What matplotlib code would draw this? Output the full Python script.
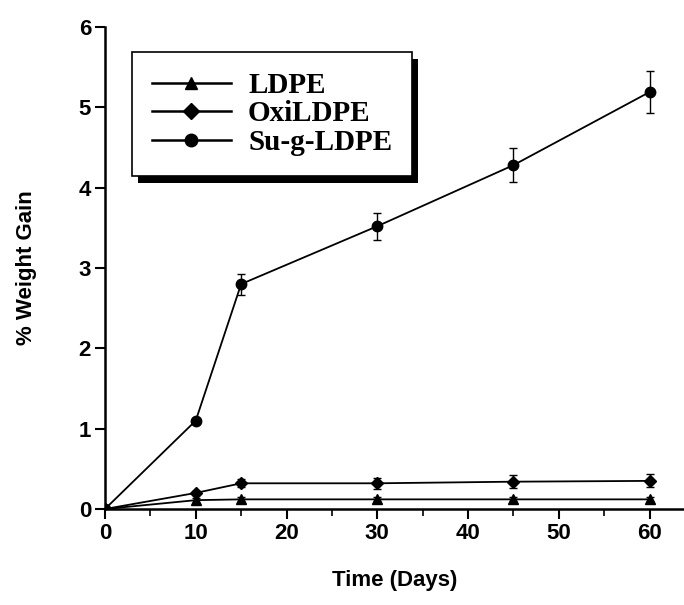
import matplotlib.pyplot as plt
import matplotlib.patheffects as pe

days = [0, 10, 15, 30, 45, 60]

ldpe = [0, 0.11, 0.12, 0.12, 0.12, 0.12]
ldpe_err = [0, 0.03, 0.03, 0.03, 0.03, 0.03]

oxi = [0, 0.20, 0.32, 0.32, 0.34, 0.35]
oxi_err = [0, 0.03, 0.05, 0.07, 0.08, 0.08]

sug = [0, 1.10, 2.80, 3.52, 4.28, 5.19]
sug_err = [0, 0.03, 0.13, 0.17, 0.21, 0.26]

labels = ['LDPE', 'OxiLDPE', 'Su-g-LDPE']

fig = plt.figure(figsize=(6.84, 6.05), dpi=100)
ax = fig.add_axes([105/684, 1-509/605, 579/684, 482/605])

c1 = ax.errorbar(days, ldpe, yerr=ldpe_err, color='black', marker='^', markersize=7,
                 lw=1.3, capsize=3, elinewidth=1)
c2 = ax.errorbar(days, oxi, yerr=oxi_err, color='black', marker='D', markersize=6.5,
                 lw=1.3, capsize=3, elinewidth=1)
c3 = ax.errorbar(days, sug, yerr=sug_err, color='black', marker='o', markersize=7.5,
                 lw=1.3, capsize=3, elinewidth=1)

ax.set_xlim(0, 63.8)
ax.set_ylim(0, 6)
ax.set_xticks([0, 10, 20, 30, 40, 50, 60])
ax.set_xticks([5, 15, 25, 35, 45, 55], minor=True)
ax.set_yticks([0, 1, 2, 3, 4, 5, 6])

ax.spines['top'].set_visible(False)
ax.spines['right'].set_visible(False)
ax.spines['left'].set_linewidth(1.8)
ax.spines['bottom'].set_linewidth(1.8)
ax.tick_params(which='major', direction='out', length=7, width=1.5, pad=3)
ax.tick_params(which='minor', direction='out', length=5, width=1.2)

for lab in ax.get_xticklabels() + ax.get_yticklabels():
    lab.set_fontfamily('Liberation Sans')
    lab.set_fontweight('bold')
    lab.set_fontsize(16)

ax.set_xlabel('Time (Days)', fontsize=16, fontweight='bold',
              fontfamily='Liberation Sans', labelpad=19)
ax.set_ylabel('% Weight Gain', fontsize=16, fontweight='bold',
              fontfamily='Liberation Sans', labelpad=30)

leg = ax.legend([c1[0], c2[0], c3[0]], labels,
                loc='upper left', bbox_to_anchor=(0.0466, 0.948), borderaxespad=0,
                prop={'family': 'Liberation Serif', 'weight': 'bold', 'size': 21},
                handlelength=2.7, handletextpad=0.6, fancybox=False, framealpha=1,
                borderpad=0.68, labelspacing=0.05, markerscale=1.2)
for h in leg.legend_handles:
    h.set_linewidth(1.8)
frame = leg.get_frame()
frame.set_edgecolor('black')
frame.set_linewidth(1.2)
frame.set_path_effects([pe.SimplePatchShadow(offset=(4.5, -5), shadow_rgbFace='black', alpha=1),
                        pe.Normal()])

fig.savefig('out.png', dpi=100)
